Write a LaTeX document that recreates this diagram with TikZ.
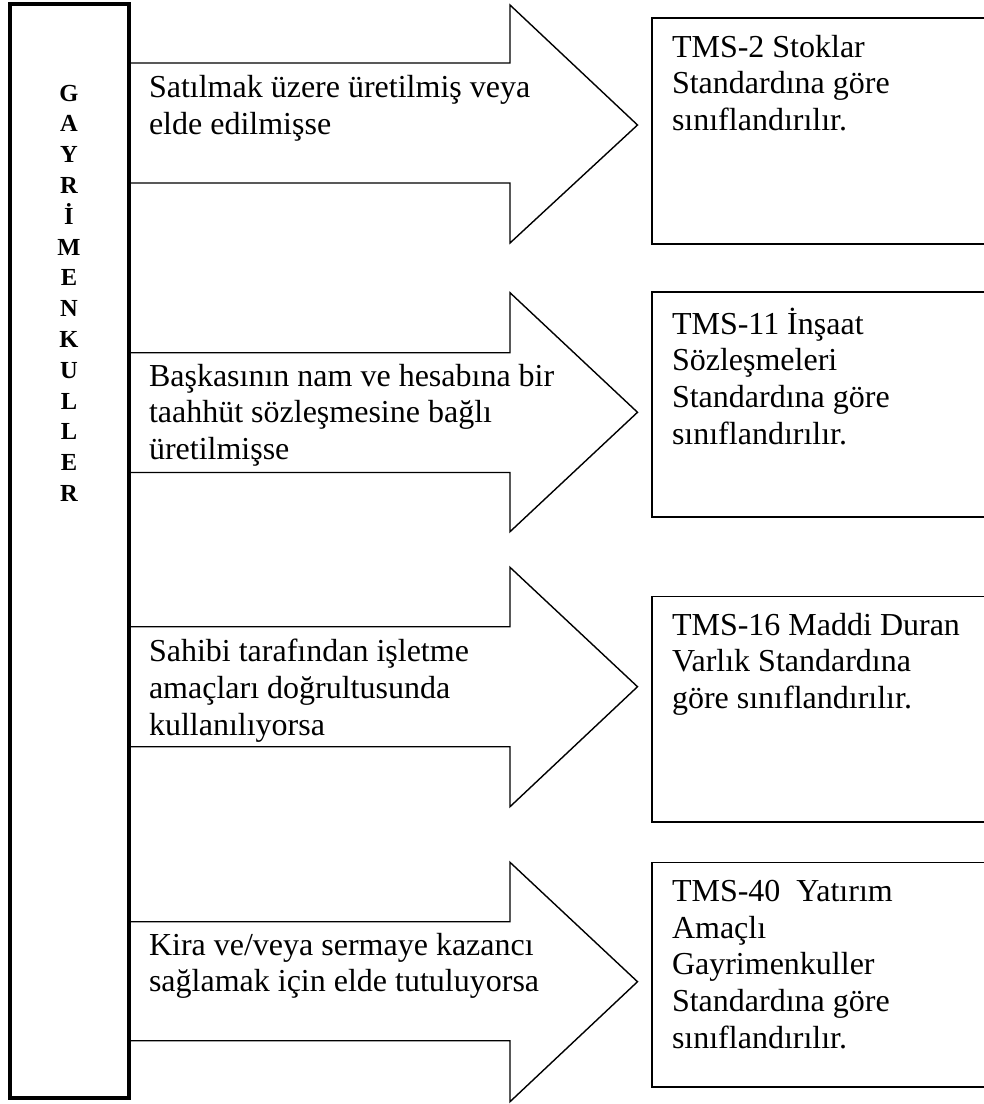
\documentclass[tikz,border=0pt]{standalone}
\usepackage{fontspec}
\setmainfont{Liberation Serif}
\newcommand{\arrtext}[1]{\parbox[t]{480pt}{\raggedright\fontsize{32pt}{36.7pt}\selectfont #1}}
\newcommand{\coltext}[1]{\parbox[t]{60pt}{\centering\fontsize{24.5pt}{30.8pt}\selectfont\bfseries #1}}
\begin{document}
\begin{tikzpicture}[x=1pt,y=-1pt,
  thinline/.style={line width=1.4pt, line join=miter, draw=black},
  thickbox/.style={line width=4pt, draw=black},
  rbox/.style={line width=1.6pt, draw=black},
  txt/.style={anchor=base west, inner sep=0pt, outer sep=0pt},
  coltxt/.style={anchor=base, inner sep=0pt, outer sep=0pt}]
\useasboundingbox (0,0) rectangle (984,1104);
\clip (0,0) rectangle (984,1104);
\fill[white] (0,0) rectangle (984,1104);

% right boxes
\draw[rbox] (652,18) rectangle (1000,244);
\draw[rbox] (652,292) rectangle (1000,517);
\draw[rbox] (652,596.5) rectangle (1000,821.7);
\draw[rbox] (652,862.5) rectangle (1000,1087);

% arrows
\draw[thinline] (130,63) -- (510,63) -- (510,5) -- (637.5,125) -- (510,243) -- (510,183) -- (130,183);
\draw[thinline] (130,352.7) -- (510,352.7) -- (510,292.7) -- (637.5,412.3) -- (510,531.7) -- (510,472.5) -- (130,472.5);
\draw[thinline] (130,626.7) -- (510,626.7) -- (510,567.3) -- (637.5,686.7) -- (510,806.7) -- (510,746.7) -- (130,746.7);
\draw[thinline] (130,921.7) -- (510,921.7) -- (510,862.3) -- (637.5,981.7) -- (510,1101.7) -- (510,1040.7) -- (130,1040.7);

% left box
\draw[thickbox] (9.5,4) rectangle (128.5,1098);

% column letters
\node[coltxt] (col) at (69,101) {\coltext{G\\A\\Y\\R\\İ\\M\\E\\N\\K\\U\\L\\L\\E\\R}};

% arrow texts
\node[txt] (a1) at (149,97.7) {\arrtext{Satılmak üzere üretilmiş veya\\elde edilmişse}};
\node[txt] (a2) at (149,386) {\arrtext{Başkasının nam ve hesabına bir\\taahhüt sözleşmesine bağlı\\üretilmişse}};
\node[txt] (a3) at (149,661.7) {\arrtext{Sahibi tarafından işletme\\amaçları doğrultusunda\\kullanılıyorsa}};
\node[txt] (a4) at (149,955) {\arrtext{Kira ve/veya sermaye kazancı\\sağlamak için elde tutuluyorsa}};

% box texts
\node[txt] (b1) at (672,57) {\arrtext{TMS-2 Stoklar\\Standardına göre\\sınıflandırılır.}};
\node[txt] (b2) at (672,334) {\arrtext{TMS-11 İnşaat\\Sözleşmeleri\\Standardına göre\\sınıflandırılır.}};
\node[txt] (b3) at (672,635) {\arrtext{TMS-16 Maddi Duran\\Varlık Standardına\\göre sınıflandırılır.}};
\node[txt] (b4) at (672,901.5) {\arrtext{TMS-40\ \ Yatırım\\Amaçlı\\Gayrimenkuller\\Standardına göre\\sınıflandırılır.}};
\end{tikzpicture}
\end{document}
